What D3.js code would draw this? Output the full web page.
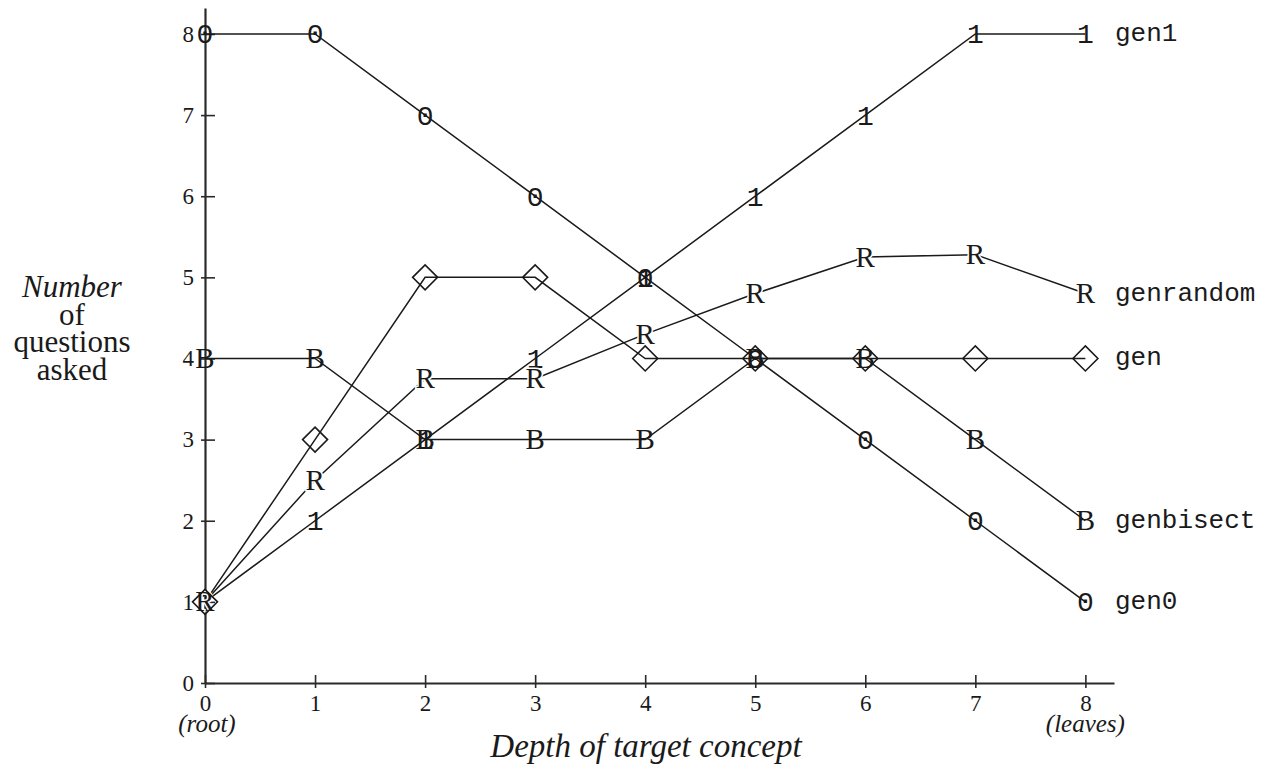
<!DOCTYPE html>
<html>
<head>
<meta charset="utf-8">
<script src="https://cdn.jsdelivr.net/npm/d3@7"></script>
<style>
  html, body { margin: 0; padding: 0; background: #fff; }
  svg { display: block; }
</style>
</head>
<body>
<svg id="chart" width="1271" height="770"></svg>
<script>
// ---- data ----
const depths = [0, 1, 2, 3, 4, 5, 6, 7, 8];
const gen0 = [8, 8, 7, 6, 5, 4, 3, 2, 1];
const gen1 = [1, 2, 3, 4, 5, 6, 7, 8, 8];
const genbisect = [4, 4, 3, 3, 3, 4, 4, 3, 2];
const gen = [1, 3, 5, 5, 4, 4, 4, 4, 4];
const genrandom = [1, 2.5, 3.75, 3.75, 4.3, 4.8, 5.25, 5.28, 4.8];
const seriesNames = ["gen1", "genrandom", "gen", "genbisect", "gen0"];
const seriesMarkers = ["1", "R", "diamond", "B", "0"];
const xTickLabels = ["0", "1", "2", "3", "4", "5", "6", "7", "8"];
const yTickLabels = ["0", "1", "2", "3", "4", "5", "6", "7", "8"];
const xEndNotes = ["(root)", "(leaves)"];
const yTitleLines = ["Number", "of", "questions", "asked"];
const xTitle = "Depth of target concept";

const seriesValues = { gen0, gen1, genbisect, gen, genrandom };
const series = seriesNames.map((name, i) => ({
  name, marker: seriesMarkers[i],
  points: depths.map((d, j) => ({ x: d, y: seriesValues[name][j] }))
}));

// ---- layout ----
const svg = d3.select("#chart");
const x = d3.scaleLinear().domain([0, 8.26]).range([205, 1114]);
const y = d3.scaleLinear().domain([0, 8.32]).range([683, 8]);
const ink = "#1a1a1a";
const serif = "'Liberation Serif', 'Times New Roman', serif";
const mono = "'Liberation Mono', 'Courier New', monospace";

// axes
const xAxis = d3.axisBottom(x)
  .tickValues(depths)
  .tickFormat((d, i) => xTickLabels[i])
  .tickSizeInner(-8).tickSizeOuter(0).tickPadding(12);
const yAxis = d3.axisLeft(y)
  .tickValues(depths)
  .tickFormat((d, i) => yTickLabels[i])
  .tickSizeInner(-10).tickSizeOuter(0).tickPadding(11);

const gx = svg.append("g").attr("transform", `translate(0,${y(0)})`).call(xAxis);
const gy = svg.append("g").attr("transform", `translate(${x(0)},0)`).call(yAxis);
[gx, gy].forEach(g => {
  g.select(".domain").attr("stroke", "#2a2a2a").attr("stroke-width", 2.2);
  g.selectAll(".tick line").attr("stroke", "#2a2a2a").attr("stroke-width", 1.6);
  g.selectAll(".tick text")
    .attr("fill", ink)
    .style("font-family", serif)
    .style("font-size", "23px");
});
gx.selectAll(".tick line").attr("y1", 5);
gy.selectAll(".tick line").attr("x1", -4);

// x end notes
svg.append("text").attr("x", x(0) + 2).attr("y", 732)
  .attr("text-anchor", "middle").style("font-family", serif)
  .style("font-style", "italic").style("font-size", "25px").attr("fill", ink)
  .text(xEndNotes[0]);
svg.append("text").attr("x", x(8)).attr("y", 732)
  .attr("text-anchor", "middle").style("font-family", serif)
  .style("font-style", "italic").style("font-size", "25px").attr("fill", ink)
  .text(xEndNotes[1]);

// x title
svg.append("text").attr("x", 646).attr("y", 757)
  .attr("text-anchor", "middle").style("font-family", serif)
  .style("font-style", "italic").style("font-size", "33px").attr("fill", ink)
  .text(xTitle);

// y title
const yBase = [297, 325, 352, 380];
yTitleLines.forEach((t, i) => {
  svg.append("text").attr("x", 72).attr("y", yBase[i])
    .attr("text-anchor", "middle").style("font-family", serif)
    .style("font-style", i === 0 ? "italic" : "normal")
    .style("font-size", "31px").attr("fill", ink).text(t);
});

// lines
const line = d3.line().x(d => x(d.x)).y(d => y(d.y));
svg.append("g").selectAll("path.series")
  .data(series).join("path")
  .attr("class", "series")
  .attr("d", d => line(d.points))
  .attr("fill", "none").attr("stroke", ink).attr("stroke-width", 1.5);

// markers
series.forEach(s => {
  const g = svg.append("g");
  if (s.marker === "diamond") {
    g.selectAll("path").data(s.points).join("path")
      .attr("d", d => {
        const cx = x(d.x), cy = y(d.y), r = 12.5;
        return `M${cx - r},${cy}L${cx},${cy - r}L${cx + r},${cy}L${cx},${cy + r}Z`;
      })
      .attr("fill", "none").attr("stroke", ink).attr("stroke-width", 1.6);
  } else {
    const isMono = s.marker === "0" || s.marker === "1";
    const t = g.selectAll("text").data(s.points).join("text")
      .attr("x", d => x(d.x)).attr("y", d => y(d.y) + 9.5)
      .attr("text-anchor", "middle")
      .style("font-family", isMono ? mono : serif)
      .style("font-size", isMono ? "28px" : "29px")
      .attr("fill", ink)
      .text(s.marker);
    if (s.marker === "R") {
      t.attr("stroke", "#fff").attr("stroke-width", 3)
        .attr("paint-order", "stroke");
    }
  }
});

// series labels at right end
svg.append("g").selectAll("text")
  .data(series).join("text")
  .attr("x", 1115)
  .attr("y", d => y(d.points[d.points.length - 1].y) + 7)
  .style("font-family", mono).style("font-size", "26px")
  .attr("fill", ink)
  .text(d => d.name);
</script>
</body>
</html>
